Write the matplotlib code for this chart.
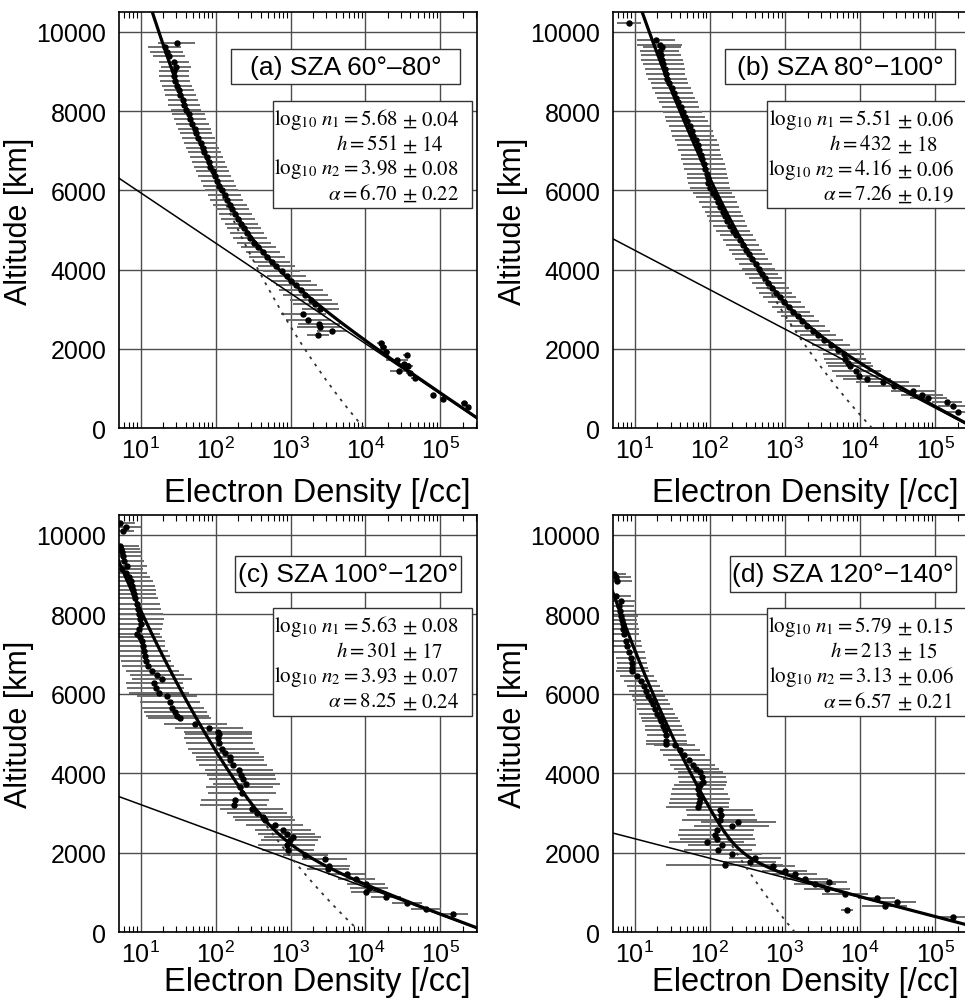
import numpy as np
import matplotlib
matplotlib.use("Agg")
import matplotlib.pyplot as plt
from matplotlib.patches import Rectangle
from matplotlib.ticker import LogLocator, NullLocator, FixedLocator

plt.rcParams["font.family"] = ["Liberation Sans", "DejaVu Sans"]
plt.rcParams["mathtext.fontset"] = "custom"
plt.rcParams["mathtext.rm"] = "Liberation Sans"
plt.rcParams["mathtext.it"] = "Liberation Sans:italic"

# ===================== DATA =====================
# altitude [km], log10 density [/cc], error half width [decades]
alt_a = [9730, 9620, 9500, 9380, 9250, 9120, 9000, 8880, 8760, 8640, 8520, 8400,
         8280, 8160, 8040, 7920, 7800, 7680, 7560, 7440, 7320, 7200, 7080, 6960,
         6840, 6720, 6600, 6480, 6360, 6240, 6120, 6000, 5880, 5760, 5640, 5520,
         5400, 5280, 5160, 5040, 4920, 4800, 4680, 4560, 4440, 4320, 4200, 4080,
         3960, 3840, 3720, 3600, 3480, 3360, 3240, 3120, 3000,
         2879, 2735, 2626, 2542, 2442, 2348, 2146, 2037, 1927, 1843, 1717, 1616,
         1574, 1447, 1389, 1255, 833, 732, 631, 523]
logn_a = [1.48, 1.32, 1.35, 1.38, 1.44, 1.47, 1.45, 1.44, 1.46, 1.49, 1.51, 1.53,
          1.56, 1.58, 1.61, 1.64, 1.66, 1.69, 1.72, 1.74, 1.77, 1.80, 1.83, 1.85,
          1.88, 1.91, 1.93, 1.96, 1.99, 2.02, 2.05, 2.08, 2.12, 2.15, 2.19, 2.22,
          2.26, 2.30, 2.34, 2.38, 2.42, 2.46, 2.51, 2.57, 2.63, 2.69, 2.75, 2.81,
          2.88, 2.95, 3.01, 3.08, 3.14, 3.20, 3.27, 3.33, 3.40,
          3.17, 3.24, 3.38, 3.39, 3.55, 3.37, 4.21, 4.24, 4.27, 4.55, 4.42, 4.51,
          4.57, 4.45, 4.59, 4.66, 4.90, 5.04, 5.32, 5.37]
err_a = [0.25, 0.22, 0.22, 0.21, 0.20, 0.20, 0.20, 0.20, 0.20, 0.20, 0.20, 0.21,
         0.20, 0.21, 0.20, 0.22, 0.21, 0.22, 0.22, 0.21, 0.22, 0.22, 0.22, 0.22,
         0.22, 0.22, 0.22, 0.22, 0.22, 0.22, 0.22, 0.22, 0.22, 0.22, 0.23, 0.22,
         0.22, 0.23, 0.22, 0.23, 0.23, 0.23, 0.23, 0.23, 0.23, 0.24, 0.24, 0.25,
         0.25, 0.26, 0.27, 0.28, 0.30, 0.30, 0.28, 0.30, 0.25,
         0.30, 0.30, 0.28, 0.30, 0.20, 0.15, 0.05, 0.05, 0.06, 0.05, 0.15, 0.08,
         0.06, 0.12, 0.05, 0.05, 0.03, 0.03, 0.05, 0.03]

alt_b = [10235, 9790, 9680, 9621, 9520, 9411, 9300, 9180, 9060, 8940, 8820, 8700,
         8580, 8460, 8340, 8220, 8100, 7980, 7860, 7740, 7620, 7500, 7380, 7260,
         7140, 7020, 6900, 6780, 6660, 6540, 6420, 6300, 6180, 6060, 5940, 5820,
         5700, 5580, 5460, 5340, 5220, 5100, 4980, 4860, 4740, 4620, 4500, 4380,
         4260, 4140, 4020, 3900, 3780, 3660, 3540, 3420, 3300, 3180, 3060, 2940,
         2820, 2700, 2580, 2460, 2340, 2220, 2100, 1980, 1860, 1742, 1650, 1574,
         1450, 1322, 1237, 1150, 1060, 943, 833, 749, 648, 547, 413]
logn_b = [0.92, 1.28, 1.33, 1.36, 1.33, 1.35, 1.36, 1.38, 1.40, 1.41, 1.43, 1.46,
          1.49, 1.52, 1.55, 1.58, 1.61, 1.64, 1.67, 1.70, 1.73, 1.76, 1.78, 1.81,
          1.84, 1.86, 1.88, 1.90, 1.92, 1.94, 1.96, 1.97, 1.98, 2.00, 2.04, 2.08,
          2.11, 2.14, 2.17, 2.20, 2.23, 2.27, 2.31, 2.35, 2.40, 2.44, 2.48, 2.52,
          2.56, 2.61, 2.65, 2.69, 2.74, 2.78, 2.83, 2.88, 2.93, 2.99, 3.05, 3.11,
          3.17, 3.23, 3.30, 3.37, 3.44, 3.52, 3.61, 3.70, 3.78, 3.80, 3.84, 3.87,
          3.95, 3.98, 4.09, 4.30, 4.45, 4.71, 4.82, 4.91, 5.16, 5.24, 5.31]
err_b = [0.16, 0.25, 0.30, 0.25, 0.26, 0.27, 0.28, 0.27, 0.27, 0.26, 0.26, 0.25,
         0.26, 0.25, 0.25, 0.26, 0.25, 0.26, 0.27, 0.28, 0.27, 0.28, 0.28, 0.28,
         0.28, 0.28, 0.27, 0.28, 0.28, 0.28, 0.27, 0.27, 0.27, 0.27, 0.26, 0.26,
         0.25, 0.25, 0.24, 0.24, 0.24, 0.23, 0.23, 0.22, 0.22, 0.22, 0.22, 0.22,
         0.22, 0.22, 0.22, 0.22, 0.22, 0.22, 0.22, 0.22, 0.22, 0.22, 0.22, 0.22,
         0.22, 0.23, 0.23, 0.23, 0.24, 0.25, 0.25, 0.26, 0.27, 0.28, 0.30, 0.30,
         0.33, 0.30, 0.32, 0.35, 0.35, 0.30, 0.28, 0.25, 0.20, 0.20, 0.15]

alt_c = [10295, 10194, 10100, 9730, 9640, 9562, 9470, 9351, 9225, 9141, 9040, 8940,
         8830, 8720, 8620, 8510, 8400, 8258, 8130, 8005, 7880, 7753, 7620, 7500,
         7420, 7331, 7200, 7079, 6950, 6826, 6700, 6573, 6480, 6364, 6260, 6153,
         6027, 5942, 5800, 5649, 5540, 5437, 5379, 5227, 5143, 5042, 4975, 4874,
         4750, 4621, 4520, 4411, 4327, 4200, 4074, 3960, 3864, 3737, 3654, 3500,
         3316, 3190, 3106, 3000, 2896, 2811, 2685, 2575, 2475, 2391, 2306, 2180,
         2053, 1950, 1843, 1674, 1591, 1465, 1340, 1212, 1100, 1002, 876, 730,
         581, 455]
logn_c = [0.73, 0.80, 0.76, 0.73, 0.74, 0.75, 0.76, 0.78, 0.82, 0.755, 0.80, 0.85,
          0.87, 0.89, 0.90, 0.91, 0.93, 0.955, 0.97, 0.98, 0.99, 1.00, 0.98, 0.955,
          0.99, 1.02, 1.03, 1.045, 1.06, 1.07, 1.10, 1.155, 1.22, 1.29, 1.18, 1.20,
          1.245, 1.355, 1.39, 1.42, 1.46, 1.49, 1.52, 1.73, 1.91, 2.03, 2.04, 2.03,
          2.05, 2.08, 2.13, 2.19, 2.19, 2.23, 2.31, 2.34, 2.36, 2.41, 2.32, 2.35,
          2.26, 2.24, 2.48, 2.55, 2.63, 2.66, 2.79, 2.90, 2.95, 3.03, 2.99, 2.95,
          2.97, 3.20, 3.46, 3.52, 3.50, 3.75, 3.88, 4.01, 4.05, 4.01, 4.28, 4.55,
          4.81, 5.17]
err_c = [0.20, 0.20, 0.15, 0.25, 0.25, 0.25, 0.26, 0.27, 0.27, 0.28, 0.28, 0.28,
         0.30, 0.30, 0.30, 0.30, 0.30, 0.30, 0.30, 0.32, 0.32, 0.30, 0.30, 0.30,
         0.30, 0.30, 0.30, 0.32, 0.33, 0.33, 0.35, 0.35, 0.36, 0.40, 0.38, 0.38,
         0.40, 0.40, 0.40, 0.42, 0.42, 0.42, 0.42, 0.42, 0.45, 0.45, 0.45, 0.45,
         0.45, 0.45, 0.45, 0.45, 0.45, 0.45, 0.45, 0.45, 0.45, 0.45, 0.45, 0.45,
         0.45, 0.45, 0.42, 0.40, 0.40, 0.40, 0.38, 0.38, 0.38, 0.38, 0.38, 0.38,
         0.35, 0.30, 0.30, 0.28, 0.28, 0.25, 0.25, 0.25, 0.25, 0.20, 0.20, 0.20,
         0.20, 0.20]

alt_d = [9010, 8930, 8840, 8468, 8341, 8200, 8088, 7950, 7850, 7753, 7620, 7500,
         7331, 7200, 7060, 6911, 6780, 6650, 6573, 6450, 6321, 6200, 6068, 5950,
         5850, 5732, 5620, 5500, 5400, 5311, 5200, 5080, 4950, 4806, 4747, 4705,
         4590, 4470, 4340, 4217, 4100, 4033, 3900, 3780, 3700, 3611, 3480, 3359,
         3250, 3149, 3064, 2940, 2811, 2770, 2668, 2559, 2432, 2350, 2265, 2180,
         2053, 1970, 1861, 1760, 1690, 1674, 1548, 1465, 1338, 1270, 1212, 1086,
         960, 851, 750, 664, 563, 370]
logn_d = [0.73, 0.75, 0.77, 0.75, 0.82, 0.79, 0.80, 0.82, 0.83, 0.84, 0.85, 0.86,
          0.885, 0.90, 0.93, 0.95, 0.96, 0.97, 0.97, 1.03, 1.08, 1.12, 1.15, 1.18,
          1.21, 1.24, 1.27, 1.30, 1.33, 1.35, 1.38, 1.40, 1.42, 1.42, 1.42, 1.53,
          1.60, 1.66, 1.72, 1.77, 1.82, 1.87, 1.89, 1.91, 1.87, 1.84, 1.86, 1.87,
          1.85, 1.84, 2.13, 2.15, 2.13, 2.38, 2.29, 2.09, 2.07, 2.10, 1.96, 2.16,
          2.11, 2.29, 2.60, 2.53, 2.20, 2.84, 3.00, 3.13, 3.27, 3.58, 3.40, 3.56,
          3.80, 4.22, 4.49, 4.33, 3.82, 5.24]
err_d = [0.15, 0.20, 0.20, 0.20, 0.20, 0.20, 0.20, 0.22, 0.20, 0.20, 0.20, 0.20,
         0.20, 0.20, 0.20, 0.20, 0.20, 0.20, 0.22, 0.22, 0.22, 0.22, 0.22, 0.22,
         0.23, 0.23, 0.24, 0.24, 0.25, 0.25, 0.25, 0.26, 0.26, 0.27, 0.27, 0.27,
         0.27, 0.28, 0.28, 0.30, 0.30, 0.30, 0.32, 0.32, 0.35, 0.35, 0.38, 0.40,
         0.40, 0.42, 0.45, 0.45, 0.50, 0.50, 0.50, 0.50, 0.50, 0.50, 0.50, 0.45,
         0.45, 0.40, 0.35, 0.35, 0.78, 0.30, 0.30, 0.30, 0.30, 0.25, 0.28, 0.30,
         0.30, 0.25, 0.25, 0.30, 0.08, 0.25]

# fit parameters printed in each panel
panel_tags = ["(a) SZA 60°–80°", "(b) SZA 80°−100°", "(c) SZA 100°−120°", "(d) SZA 120°−140°"]
log_n1 = [5.68, 5.51, 5.63, 5.79]
log_n1_err = ["0.04", "0.06", "0.08", "0.15"]
scale_h = [551, 432, 301, 213]
scale_h_err = ["14", "18", "17", "15"]
log_n2 = [3.98, 4.16, 3.93, 3.13]
log_n2_err = ["0.08", "0.06", "0.07", "0.06"]
alpha = [6.70, 7.26, 8.25, 6.57]
alpha_err = ["0.22", "0.19", "0.24", "0.21"]
R_REF = 6400.0  # reference radius of the power-law term [km]

alts = [alt_a, alt_b, alt_c, alt_d]
logns = [logn_a, logn_b, logn_c, logn_d]
errs = [err_a, err_b, err_c, err_d]

# ===================== FIGURE =====================
fig = plt.figure(figsize=(9.65, 10.04), dpi=100)
positions = [
    [0.1233, 0.5727, 0.3710, 0.4143],
    [0.6352, 0.5727, 0.3720, 0.4143],
    [0.1233, 0.0707, 0.3710, 0.4153],
    [0.6352, 0.0707, 0.3720, 0.4153],
]
xlabel_coords = [(0.555, -0.118), (0.535, -0.118), (0.555, -0.082), (0.535, -0.082)]
XMIN, XMAX = 10 ** 0.71, 10 ** 5.49

z = np.linspace(0, 10600, 800)

for i in range(4):
    ax = fig.add_axes(positions[i])

    n = 10 ** np.array(logns[i])
    e = np.array(errs[i])
    lo = n - n * 10 ** (-e)
    hi = n * 10 ** e - n
    ax.errorbar(n, alts[i], xerr=[lo, hi], fmt="none", ecolor="0.42",
                elinewidth=1.4, capsize=0, zorder=2)
    ax.plot(n, alts[i], "o", color="black", ms=3.6, mec="black", zorder=4)

    # fit components
    n_exp = 10 ** log_n1[i] * np.exp(-z / scale_h[i])
    n_pow = 10 ** log_n2[i] * (1 + z / R_REF) ** (-alpha[i])
    ax.plot(n_exp, z, color="black", lw=1.1, zorder=3)
    ax.plot(n_pow, z, color="0.2", lw=1.3, ls=(0, (1.6, 3.2)), zorder=3)
    ax.plot(n_exp + n_pow, z, color="black", lw=2.3, zorder=5)

    ax.set_xscale("log")
    ax.set_xlim(XMIN, XMAX)
    ax.set_ylim(0, 10500)
    ax.xaxis.set_major_locator(LogLocator(base=10, numticks=10))
    ax.xaxis.set_minor_locator(LogLocator(base=10, subs=np.arange(2, 10), numticks=20))
    ax.yaxis.set_major_locator(FixedLocator([0, 2000, 4000, 6000, 8000, 10000]))
    ax.yaxis.set_minor_locator(NullLocator())

    ax.grid(True, which="major", color="0.3", lw=1.0)
    ax.set_axisbelow(True)
    ax.tick_params(which="both", direction="in", top=True, right=True)
    ax.tick_params(which="major", length=0, labelsize=18)
    ax.tick_params(axis="x", which="major", pad=6)
    ax.tick_params(axis="y", which="major", pad=9)
    ax.tick_params(axis="x", which="minor", length=4, width=0.8)
    for s in ax.spines.values():
        s.set_linewidth(1.2)

    ax.set_xlabel("Electron Density [/cc]", fontsize=23.5)
    ax.set_ylabel("Altitude [km]", fontsize=22)
    ax.xaxis.set_label_coords(*xlabel_coords[i])
    ax.yaxis.set_label_coords(-0.238, 0.5)

    # panel tag box
    if i < 2:
        tag_box = [0.313, 0.827, 0.640, 0.084]
    else:
        tag_box = [0.325, 0.815, 0.630, 0.087]
    ax.add_patch(Rectangle((tag_box[0], tag_box[1]), tag_box[2], tag_box[3],
                           transform=ax.transAxes, facecolor="white",
                           edgecolor="0.2", lw=1.0, zorder=6))
    ax.text(tag_box[0] + tag_box[2] / 2, tag_box[1] + tag_box[3] / 2,
            panel_tags[i], transform=ax.transAxes, ha="center", va="center",
            fontsize=19, zorder=7)

    # fit parameter box
    top = 0.786 if i < 2 else 0.777
    ax.add_patch(Rectangle((0.430, top - 0.258), 0.555, 0.258,
                           transform=ax.transAxes, facecolor="white",
                           edgecolor="0.2", lw=1.0, zorder=6))
    lines_left = [
        r"$\log_{10}\, n_1 = %.2f$" % log_n1[i],
        r"$h = %d$" % scale_h[i],
        r"$\log_{10}\, n_2 = %.2f$" % log_n2[i],
        r"$\alpha = %.2f$" % alpha[i],
    ]
    lines_right = [log_n1_err[i], scale_h_err[i], log_n2_err[i], alpha_err[i]]
    x_pm = 0.79
    for k in range(4):
        yk = top - 0.042 - k * 0.060
        ax.text(x_pm - 0.012, yk, lines_left[k], transform=ax.transAxes,
                ha="right", va="center", fontsize=15, math_fontfamily="stix",
                zorder=7)
        ax.text(x_pm, yk, r"$\pm\ %s$" % lines_right[k], transform=ax.transAxes,
                ha="left", va="center", fontsize=15, math_fontfamily="stix",
                zorder=7)

fig.savefig("out.png", dpi=100)
